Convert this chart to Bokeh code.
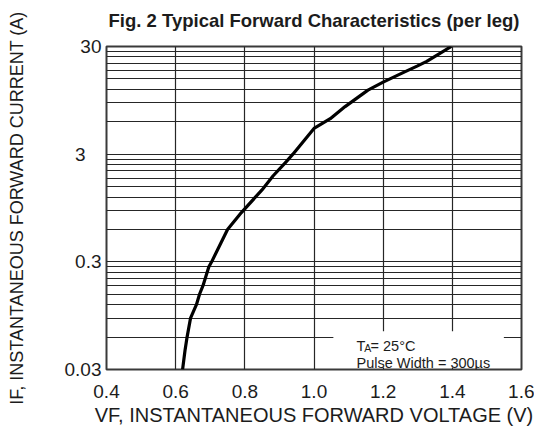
import math
from bokeh.plotting import figure
from bokeh.models import FixedTicker, PrintfTickFormatter, Label, BoxAnnotation, Range1d, LinearAxis
from bokeh.embed import file_html
from bokeh.resources import INLINE

# ---- data ----
vf_volts = [0.620, 0.627, 0.633, 0.643, 0.660, 0.669, 0.679, 0.696, 0.704, 0.750,
            0.790, 0.849, 0.882, 0.920, 0.939, 1.000, 1.047, 1.090, 1.156, 1.200,
            1.253, 1.298, 1.326, 1.363, 1.397]
if_amps = [0.030, 0.045, 0.060, 0.090, 0.120, 0.150, 0.180, 0.270, 0.300, 0.600,
           0.860, 1.39, 1.89, 2.56, 3.00, 5.20, 6.40, 8.30, 11.8, 14.0,
           16.9, 19.7, 21.8, 25.8, 30.0]

x_ticks = [0.4, 0.6, 0.8, 1.0, 1.2, 1.4, 1.6]
y_ticks = [0.03, 0.3, 3, 30]
y_tick_labels = ["0.03", "0.3", "3\u2007\u2008", "30"]
y_grid_values = [0.03, 0.06, 0.09, 0.12, 0.15, 0.18, 0.21, 0.24, 0.27,
                 0.3, 0.6, 0.9, 1.2, 1.5, 1.8, 2.1, 2.4, 2.7,
                 3, 6, 9, 12, 15, 18, 21, 24, 27, 30]

title_text = "Fig. 2 Typical Forward Characteristics (per leg)"
x_label = "VF, INSTANTANEOUS FORWARD VOLTAGE (V)"
y_label = "IF, INSTANTANEOUS FORWARD CURRENT (A)"
note_line1_main, note_line1_sub, note_line1_rest = "T", "A", "= 25\u00b0C"
note_line2 = "Pulse Width = 300\u00b5s"

FONT = "Liberation Sans"
TXT = "#1c1c1c"

p = figure(width=534, height=428,
           x_range=Range1d(0.4, 1.6), y_range=Range1d(0.03, 30),
           y_axis_type="log", output_backend="svg", toolbar_location=None,
           min_border_left=106, min_border_right=13,
           min_border_top=46, min_border_bottom=59)
p.title.visible = False
p.background_fill_color = "white"
p.border_fill_color = "white"
p.outline_line_color = "#3a3a3a"
p.outline_line_width = 2

bottom_axis = p.xaxis[0]
left_axis = p.yaxis[0]

bottom_axis.ticker = FixedTicker(ticks=x_ticks)
bottom_axis.formatter = PrintfTickFormatter(format="%.1f")
left_axis.ticker = FixedTicker(ticks=y_ticks)
left_axis.major_label_overrides = {t: s for t, s in zip(y_ticks, y_tick_labels)}

# title drawn as the label of an empty top axis
top_axis = LinearAxis(ticker=FixedTicker(ticks=[]), axis_label=title_text)
p.add_layout(top_axis, "above")

for ax in (bottom_axis, left_axis, top_axis):
    ax.axis_line_color = None
    ax.major_tick_line_color = None
    ax.minor_tick_line_color = None
    ax.major_tick_out = 0
    ax.major_tick_in = 0
    ax.minor_tick_out = 0
    ax.minor_tick_in = 0
    ax.major_label_text_font = FONT
    ax.major_label_text_font_size = "19px"
    ax.major_label_text_color = TXT
    ax.axis_label_text_font = FONT
    ax.axis_label_text_font_style = "normal"
    ax.axis_label_text_color = TXT
    ax.axis_label_text_font_size = "19px"

bottom_axis.major_label_standoff = 15
left_axis.major_label_standoff = 5
bottom_axis.axis_label = x_label
bottom_axis.axis_label_text_font_size = "20px"
bottom_axis.axis_label_standoff = 3
left_axis.axis_label = y_label
left_axis.axis_label_text_font_size = "18px"
left_axis.axis_label_standoff = 35
top_axis.axis_label_standoff = 16
top_axis.axis_label_text_font_style = "bold"
top_axis.axis_label_text_font_size = "18.5px"

# grid
p.xgrid.ticker = FixedTicker(ticks=x_ticks)
p.ygrid.ticker = FixedTicker(ticks=y_grid_values)
for g in (p.xgrid, p.ygrid):
    g.grid_line_color = "#262626"
    g.grid_line_width = 1.2
    g.grid_line_alpha = 1.0

# curve
p.line(vf_volts, if_amps, line_color="black", line_width=3.2, line_join="round")

# white note box
p.add_layout(BoxAnnotation(left=1.056, right=1.549, bottom=0.0313, top=0.0678,
                           fill_color="white", fill_alpha=1.0, line_color=None))

def lab(text, x, y, size, xo=0, yo=0):
    p.add_layout(Label(text=text, x=x, y=y, x_offset=xo, y_offset=yo,
                       text_font=FONT, text_font_size=size, text_color=TXT,
                       text_align="left", text_baseline="alphabetic"))

# note text
lab(note_line1_main, 1.123, 0.0499, "14.5px")
lab(note_line1_sub, 1.123, 0.0499, "10.5px", xo=7.8, yo=-2)
lab(note_line1_rest, 1.123, 0.0499, "14.5px", xo=14)
lab(note_line2, 1.123, 0.0344, "14.5px")

open("out.html", "w").write(file_html(p, INLINE))
